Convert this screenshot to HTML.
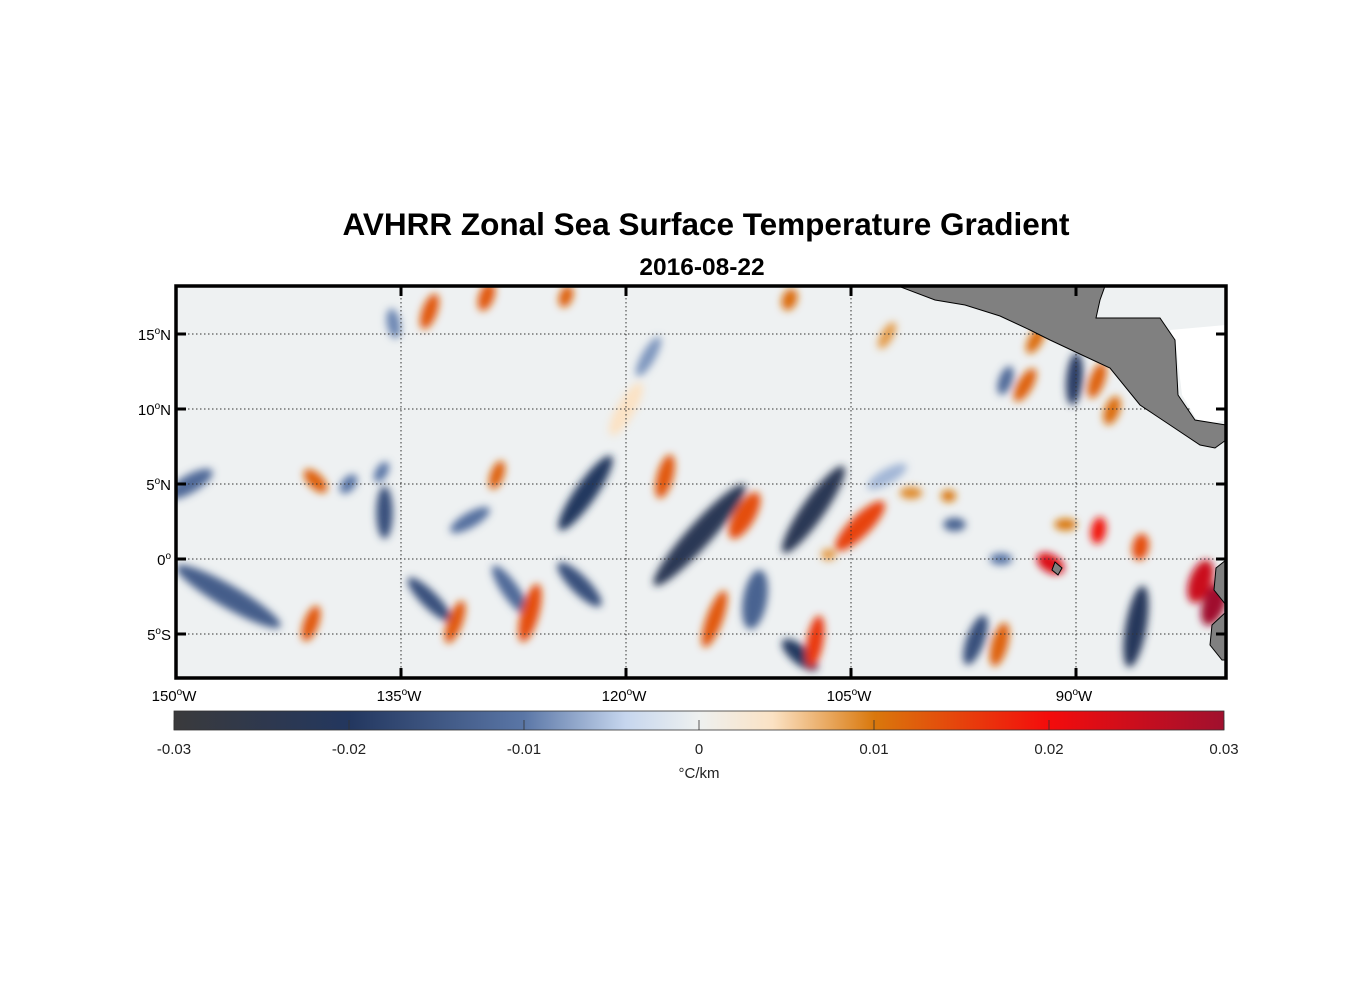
<!DOCTYPE html>
<html><head><meta charset="utf-8"><style>
body{margin:0;background:#fff;font-family:"Liberation Sans",Arial,sans-serif}
</style></head><body>
<svg width="1356" height="1000" viewBox="0 0 1356 1000" xmlns="http://www.w3.org/2000/svg" font-family="Liberation Sans, Arial, sans-serif">
<defs>
<clipPath id="clip"><rect x="176" y="286" width="1050" height="392"/></clipPath>
<filter id="blur" x="-50%" y="-50%" width="200%" height="200%"><feGaussianBlur stdDeviation="4"/></filter>
<linearGradient id="cbar" x1="0" x2="1" y1="0" y2="0">
<stop offset="0" stop-color="#3a3a3c"/><stop offset="0.167" stop-color="#23375f"/><stop offset="0.333" stop-color="#5a76a6"/><stop offset="0.43" stop-color="#c6d6ee"/><stop offset="0.5" stop-color="#eef1f0"/><stop offset="0.57" stop-color="#fbe2c4"/><stop offset="0.667" stop-color="#d9780c"/><stop offset="0.833" stop-color="#f40c0c"/><stop offset="1" stop-color="#a0102e"/>
</linearGradient>
</defs>
<text x="706" y="235" text-anchor="middle" font-size="31.5" font-weight="bold">AVHRR Zonal Sea Surface Temperature Gradient</text>
<text x="702" y="275" text-anchor="middle" font-size="24.5" font-weight="bold">2016-08-22</text>
<g clip-path="url(#clip)">
<rect x="176" y="286" width="1050" height="392" fill="#eef1f2"/>
<g id="blobs" filter="url(#blur)"></g>
<g id="grid"></g>
<path d="M1170,330 L1226,325 L1226,420 L1200,425 L1182,395 L1176,345 Z" fill="#ffffff"/>
<path d="M898,286 L1105,286 L1100,300 L1096,318 L1160,318 L1175,340 L1178,395 L1195,420 L1226,425 L1226,440 L1215,448 L1200,445 L1170,425 L1140,405 L1110,368 L1082,355 L1050,340 L1030,330 L1000,316 L965,305 L935,300 Z" fill="#808080" stroke="#000" stroke-width="1"/>
<path d="M1226,560 L1216,568 L1214,590 L1226,605 Z M1226,612 L1212,625 L1210,645 L1222,660 L1226,660 Z" fill="#808080" stroke="#000" stroke-width="1"/>
<path d="M1055,562 L1062,568 L1058,575 L1052,570 Z" fill="#808080" stroke="#000"/>
</g>
<rect x="176" y="286" width="1050" height="392" fill="none" stroke="#000" stroke-width="3.5"/>
<g id="axes" font-size="15"></g>
<rect x="174" y="711" width="1050" height="19" fill="url(#cbar)" stroke="#333" stroke-width="0.8"/>
<g id="cbticks" font-size="15" fill="#222"></g>
<text x="699" y="778" text-anchor="middle" font-size="15" fill="#222">°C/km</text>
</svg>
<script>
const lonTicks=[-150,-135,-120,-105,-90];
const lonLabels=["150","135","120","105","90"];
const latTicks=[15,10,5,0,-5];
const latLabels=["15","10","5","0","5"];
const latSuffix=["N","N","N","","S"];
const cbTicks=[-0.03,-0.02,-0.01,0,0.01,0.02,0.03];
const cbLabels=["-0.03","-0.02","-0.01","0","0.01","0.02","0.03"];
// gradient features: lon, lat, along-length(deg), width(deg), angle(deg), value
const blobLon=[-149.1,-146.5,-141,-140.7,-138.5,-136.1,-136.3,-133.1,-131.4,-130.4,-128.6,-127.7,-126.4,-122.7,-123.1,-115.1,-117.4,-112.1,-111.4,-114.1,-108.4,-107.4,-107.5,-104.4,-106.5,-101,-98.5,-98.1,-96.7,-95.1,-93.4,-94.7,-92.7,-90.1,-88.6,-87.6,-91.7,-88.5,-85.7,-86,-81.7,-80.8,-133.1,-129.3,-109.1,-102.6,-135.5,-124,-118.5,-102.6,-95,-120,-90.7];
const blobLat=[5.0,-2.5,-4.3,5.2,5,3.1,5.8,-2.7,-4.2,2.6,5.6,-2.1,-3.6,4.4,-1.7,1.6,5.5,2.9,-2.7,-4.0,-6.4,-5.5,3.3,2.2,0.3,4.4,4.2,2.3,-5.4,-5.7,11.6,11.9,14.6,12,11.9,9.9,-0.3,1.9,0.8,-4.5,-1.5,-3,16.5,17.5,17.3,14.9,15.7,17.5,13.5,5.5,0,10,2.3];
const blobLen=[3.5,8,2.5,2,1.5,3.5,1.5,4,3,3,2,4,4,6,4,9,3,3.5,4,4,3,3.5,7,4.5,1,1.5,1,1.5,3.5,3,2.5,2,2,3.5,2.5,2,2,1.8,1.8,5.5,3,3,2.5,2,1.5,2,2,1.5,3,3,1.5,4,1.5];
const blobWid=[1.2,1.5,1,1,0.9,1.1,0.8,1.1,1,1,0.9,1.1,1.2,1.4,1.2,1.6,1.1,1.4,1.6,1.1,1.2,1.1,1.5,1.4,0.8,0.8,0.8,0.9,1.2,1.1,1,0.9,0.9,1.1,1,1,1.2,1,1.1,1.4,1.5,1.5,1,1,1,0.8,0.9,0.9,0.9,1,0.8,1.2,0.8];
const blobAng=[-30,30,-70,45,-50,90,-60,45,-70,-30,-70,55,-75,-55,45,-48,-75,-60,-80,-70,40,-80,-55,-45,0,0,0,0,-70,-75,-60,-70,-60,-85,-70,-70,30,-80,-80,-80,-70,-70,-70,-70,-70,-60,80,-70,-60,-30,0,-60,0];
const blobVal=[-0.012,-0.014,0.013,0.012,-0.01,-0.016,-0.01,-0.016,0.013,-0.011,0.012,-0.012,0.014,-0.02,-0.016,-0.023,0.013,0.014,-0.013,0.013,-0.02,0.016,-0.023,0.015,0.008,0.009,0.01,-0.013,-0.016,0.012,0.012,-0.012,0.011,-0.019,0.012,0.011,0.023,0.019,0.014,-0.021,0.025,0.03,0.013,0.013,0.011,0.008,-0.009,0.012,-0.008,-0.006,-0.01,0.004,0.01];
const X=lon=>176+(lon+150)*15, Y=lat=>559-lat*15, PX=15;
const stops=[[-0.03,[58,58,60]],[-0.02,[35,55,95]],[-0.01,[90,118,166]],[-0.004,[198,214,238]],[0,[238,241,240]],[0.004,[251,226,196]],[0.01,[217,120,12]],[0.02,[244,12,12]],[0.03,[160,16,46]]];
function col(v){v=Math.max(-0.03,Math.min(0.03,v));for(let i=0;i<stops.length-1;i++){const[a,ca]=stops[i],[b,cb]=stops[i+1];if(v<=b){const t=(v-a)/(b-a);return 'rgb('+ca.map((c,k)=>Math.round(c+(cb[k]-c)*t)).join(',')+')';}}return 'rgb(160,16,46)';}
const NS='http://www.w3.org/2000/svg';
function mk(tag,attrs,parent){const e=document.createElementNS(NS,tag);for(const k in attrs)e.setAttribute(k,attrs[k]);parent.appendChild(e);return e;}
function degLabel(t,num,suf){
 const a=document.createElementNS(NS,'tspan');a.textContent=num;t.appendChild(a);
 const b=document.createElementNS(NS,'tspan');b.setAttribute('dy','-6');b.setAttribute('font-size','10');b.textContent='o';t.appendChild(b);
 const c=document.createElementNS(NS,'tspan');c.setAttribute('dy','6');c.textContent=suf;t.appendChild(c);
}
const bg=document.getElementById('blobs');
for(let i=0;i<blobLon.length;i++){
 const cx=X(blobLon[i]),cy=Y(blobLat[i]);
 const e=mk('ellipse',{cx:cx,cy:cy,rx:blobLen[i]*PX/2,ry:blobWid[i]*PX/2,fill:col(blobVal[i]),transform:'rotate('+blobAng[i]+' '+cx+' '+cy+')'},bg);
 
 
}
const grid=document.getElementById('grid'),ax=document.getElementById('axes');
lonTicks.forEach((lon,i)=>{
 const x=X(lon);
 if(i>0){const l=mk('line',{x1:x,x2:x,y1:286,y2:678,stroke:'#333','stroke-width':1,'stroke-dasharray':'1.5,2.5'},grid);
 
 
 mk('line',{x1:x,x2:x,y1:286,y2:296,stroke:'#000','stroke-width':3},ax);
 mk('line',{x1:x,x2:x,y1:668,y2:678,stroke:'#000','stroke-width':3},ax);}
 const t=mk('text',{x:x-2,y:701,'text-anchor':'middle'},ax);
 degLabel(t,lonLabels[i],'W');
 
 
});
latTicks.forEach((lat,i)=>{
 const y=Y(lat);
 const l=mk('line',{x1:176,x2:1226,y1:y,y2:y,stroke:'#333','stroke-width':1,'stroke-dasharray':'1.5,2.5'},grid);
 
 
 mk('line',{x1:176,x2:186,y1:y,y2:y,stroke:'#000','stroke-width':3},ax);
 mk('line',{x1:1216,x2:1226,y1:y,y2:y,stroke:'#000','stroke-width':3},ax);
 const t=mk('text',{x:171,y:y+6,'text-anchor':'end'},ax);
 degLabel(t,latLabels[i],latSuffix[i]);
 
 
});
const cb=document.getElementById('cbticks');
cbTicks.forEach((v,i)=>{
 const x=174+(v+0.03)/0.06*1050;
 mk('line',{x1:x,x2:x,y1:720,y2:730,stroke:'#333','stroke-width':0.8},cb);
 const t=mk('text',{x:x,y:754,'text-anchor':'middle'},cb);
 t.textContent=cbLabels[i];
 
 
});
</script>
</body></html>
